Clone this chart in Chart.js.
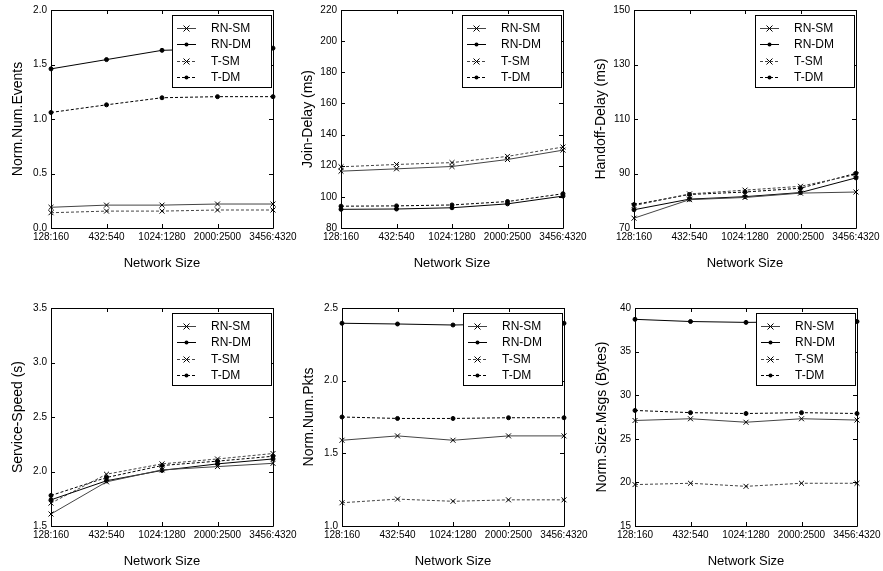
<!DOCTYPE html>
<html>
<head>
<meta charset="utf-8">
<script src="https://cdn.jsdelivr.net/npm/chart.js@4.4.1/dist/chart.umd.min.js"></script>
<style>
    html, body { margin: 0; padding: 0; background: #fff; width: 883px; height: 571px; overflow: hidden; }
    canvas { position: absolute; }
</style>
</head>
<body>
<canvas id="c1" width="303" height="285" style="left:0px;top:0px"></canvas>
<canvas id="c2" width="303" height="285" style="left:290px;top:0px"></canvas>
<canvas id="c3" width="303" height="285" style="left:583px;top:0px"></canvas>
<canvas id="c4" width="303" height="285" style="left:0px;top:298px"></canvas>
<canvas id="c5" width="303" height="285" style="left:291px;top:298px"></canvas>
<canvas id="c6" width="303" height="285" style="left:584px;top:298px"></canvas>
<script>
// --- datos ---
const networkSizes = ['128:160', '432:540', '1024:1280', '2000:2500', '3456:4320'];
const seriesNames = ['RN-SM', 'RN-DM', 'T-SM', 'T-DM'];

// Norm.Num.Events
const eventsTicks = ['0.0', '0.5', '1.0', '1.5', '2.0'];
const eventsRnSm = [0.19, 0.21, 0.21, 0.22, 0.22];
const eventsRnDm = [1.46, 1.545, 1.63, 1.645, 1.65];
const eventsTSm = [0.14, 0.155, 0.155, 0.165, 0.165];
const eventsTDm = [1.06, 1.13, 1.195, 1.205, 1.205];

// Join-Delay (ms)
const joinTicks = ['80', '100', '120', '140', '160', '180', '200', '220'];
const joinRnSm = [116.5, 118, 119.5, 124, 130];
const joinRnDm = [92, 92.2, 93, 95.5, 100.5];
const joinTSm = [119.3, 120.8, 122, 126, 132];
const joinTDm = [94, 94.2, 94.8, 97, 102];

// Handoff-Delay (ms)
const handoffTicks = ['70', '90', '110', '130', '150'];
const handoffRnSm = [73.6, 80.4, 81.2, 82.8, 83.2];
const handoffRnDm = [76.7, 80.6, 81.5, 83, 88.4];
const handoffTSm = [78.2, 82.5, 83.9, 85.3, 89.6];
const handoffTDm = [78.6, 82.3, 83.2, 84.6, 90.1];

// Service-Speed (s)
const speedTicks = ['1.5', '2.0', '2.5', '3.0', '3.5'];
const speedRnSm = [1.61, 1.905, 2.015, 2.045, 2.075];
const speedRnDm = [1.74, 1.915, 2.01, 2.07, 2.115];
const speedTSm = [1.71, 1.975, 2.07, 2.115, 2.165];
const speedTDm = [1.78, 1.945, 2.055, 2.095, 2.14];

// Norm.Num.Pkts
const pktsTicks = ['1.0', '1.5', '2.0', '2.5'];
const pktsRnSm = [1.59, 1.62, 1.59, 1.62, 1.62];
const pktsRnDm = [2.395, 2.39, 2.383, 2.39, 2.395];
const pktsTSm = [1.16, 1.185, 1.17, 1.18, 1.18];
const pktsTDm = [1.75, 1.74, 1.74, 1.745, 1.745];

// Norm.Size.Msgs (Bytes)
const msgsTicks = ['15', '20', '25', '30', '35', '40'];
const msgsRnSm = [27.1, 27.3, 26.9, 27.3, 27.15];
const msgsRnDm = [38.7, 38.45, 38.35, 38.4, 38.45];
const msgsTSm = [19.75, 19.9, 19.55, 19.9, 19.9];
const msgsTDm = [28.25, 28.0, 27.9, 28.0, 27.9];

const panels = [
    { id: 'c1', title: 'Norm.Num.Events', ticks: eventsTicks, series: [eventsRnSm, eventsRnDm, eventsTSm, eventsTDm] },
    { id: 'c2', title: 'Join-Delay (ms)', ticks: joinTicks, series: [joinRnSm, joinRnDm, joinTSm, joinTDm] },
    { id: 'c3', title: 'Handoff-Delay (ms)', ticks: handoffTicks, series: [handoffRnSm, handoffRnDm, handoffTSm, handoffTDm] },
    { id: 'c4', title: 'Service-Speed (s)', ticks: speedTicks, series: [speedRnSm, speedRnDm, speedTSm, speedTDm] },
    { id: 'c5', title: 'Norm.Num.Pkts', ticks: pktsTicks, series: [pktsRnSm, pktsRnDm, pktsTSm, pktsTDm] },
    { id: 'c6', title: 'Norm.Size.Msgs (Bytes)', ticks: msgsTicks, series: [msgsRnSm, msgsRnDm, msgsTSm, msgsTDm] },
];

// estilos por serie: SM = cruz, DM = punto; T = discontinua
const estilos = [
    { line: '#444', dash: [], point: 'crossRot' },
    { line: '#000', dash: [], point: 'circle' },
    { line: '#444', dash: [3, 2], point: 'crossRot' },
    { line: '#000', dash: [3, 2], point: 'circle' },
];

Chart.defaults.font.family = '"Liberation Sans", Arial, sans-serif';
Chart.defaults.color = '#000';

function dibujarMarca(ctx, tipo, x, y) {
    ctx.beginPath();
    if (tipo === 'crossRot') {
        ctx.moveTo(x - 3, y - 3); ctx.lineTo(x + 3, y + 3);
        ctx.moveTo(x - 3, y + 3); ctx.lineTo(x + 3, y - 3);
        ctx.stroke();
    } else {
        ctx.arc(x, y, 2, 0, Math.PI * 2);
        ctx.fill();
    }
}

// marco tipo matlab + ticks hacia dentro + leyenda en caja
const marcoPlugin = {
    id: 'marco',
    afterDraw(chart) {
        const { ctx, chartArea: a, scales: { x, y } } = chart;
        ctx.save();
        ctx.strokeStyle = '#000';
        ctx.lineWidth = 1;
        ctx.setLineDash([]);
        ctx.beginPath();
        ctx.rect(a.left + 0.5, a.top + 0.5, a.right - a.left, a.bottom - a.top);
        x.ticks.forEach((t, i) => {
            const px = Math.round(x.getPixelForTick(i)) + 0.5;
            ctx.moveTo(px, a.bottom); ctx.lineTo(px, a.bottom - 4);
            ctx.moveTo(px, a.top); ctx.lineTo(px, a.top + 4);
        });
        y.ticks.forEach((t, i) => {
            const py = Math.round(y.getPixelForTick(i)) + 0.5;
            ctx.moveTo(a.left, py); ctx.lineTo(a.left + 4, py);
            ctx.moveTo(a.right, py); ctx.lineTo(a.right - 4, py);
        });
        ctx.stroke();

        // leyenda
        const bx = a.right - 101, by = a.top + 5, bw = 99, bh = 72;
        ctx.fillStyle = '#fff';
        ctx.fillRect(bx, by, bw, bh);
        ctx.strokeRect(bx + 0.5, by + 0.5, bw, bh);
        ctx.font = '12px "Liberation Sans", Arial, sans-serif';
        ctx.textBaseline = 'middle';
        chart.data.datasets.forEach((ds, i) => {
            const ly = Math.round(by + 13 + i * 16.3) + 0.5;
            ctx.strokeStyle = ds.borderColor;
            ctx.setLineDash(ds.borderDash);
            ctx.beginPath();
            ctx.moveTo(bx + 5, ly); ctx.lineTo(bx + 24, ly);
            ctx.stroke();
            ctx.setLineDash([]);
            ctx.strokeStyle = '#000';
            ctx.fillStyle = '#000';
            dibujarMarca(ctx, ds.pointStyle, bx + 14.5, ly);
            ctx.fillText(ds.label, bx + 39, ly);
        });
        ctx.restore();
    }
};

function crearPanel(p) {
    const datasets = p.series.map((vals, i) => ({
        label: seriesNames[i],
        data: vals,
        borderColor: estilos[i].line,
        borderWidth: 1,
        borderDash: estilos[i].dash,
        pointStyle: estilos[i].point,
        pointRadius: estilos[i].point === 'circle' ? 2 : 3.5,
        pointBorderWidth: 1,
        pointBorderColor: '#000',
        pointBackgroundColor: '#000',
        tension: 0,
        clip: false,
    }));
    const valores = p.ticks.map(Number);
    new Chart(document.getElementById(p.id), {
        type: 'line',
        data: { labels: networkSizes, datasets },
        plugins: [marcoPlugin],
        options: {
            responsive: false,
            animation: false,
            devicePixelRatio: 1,
            layout: { padding: { top: 10, right: 30, bottom: 0, left: 0 } },
            plugins: { legend: { display: false }, tooltip: { enabled: false } },
            scales: {
                x: {
                    offset: false,
                    grid: { display: false, drawTicks: false },
                    border: { display: false },
                    ticks: { autoSkip: false, maxRotation: 0, padding: 3, font: { size: 10 } },
                    title: { display: true, text: 'Network Size', font: { size: 13 }, padding: { top: 0, bottom: 14 } },
                    afterFit: s => { s.height = 57; },
                },
                y: {
                    min: valores[0],
                    max: valores[valores.length - 1],
                    grid: { display: false, drawTicks: false },
                    border: { display: false },
                    afterBuildTicks: s => { s.ticks = valores.map(v => ({ value: v })); },
                    ticks: { autoSkip: false, padding: 4, font: { size: 10 }, callback: (v, i) => p.ticks[i] },
                    title: { display: true, text: p.title, font: { size: 14 }, padding: { top: 10, bottom: 0 } },
                    afterFit: s => { s.width = 51; },
                },
            },
        },
    });
}

panels.forEach(crearPanel);
</script>
</body>
</html>
